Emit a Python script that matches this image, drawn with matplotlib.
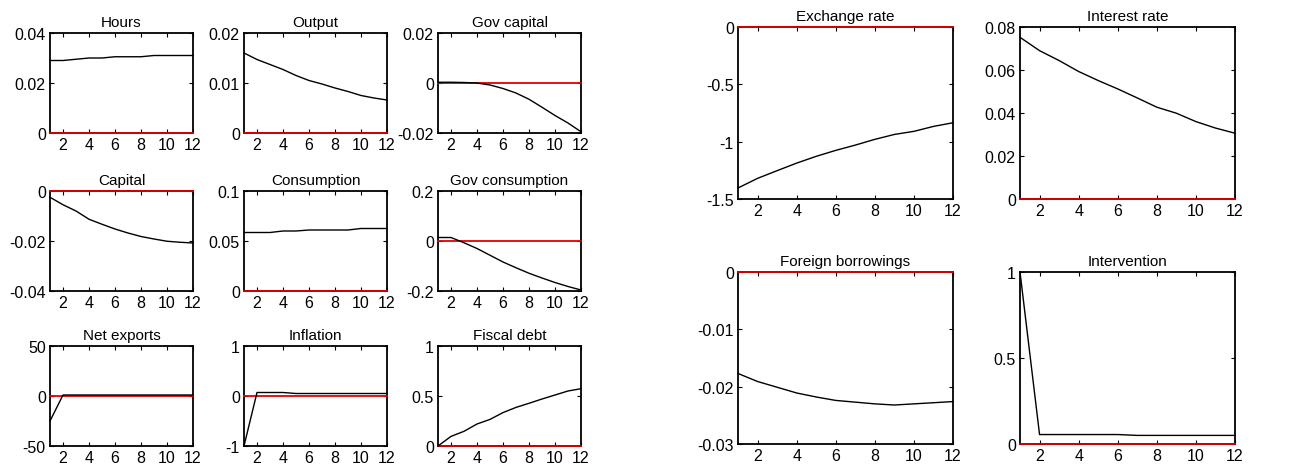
import numpy as np
import matplotlib
matplotlib.use("Agg")
import matplotlib.pyplot as plt
from matplotlib.ticker import FuncFormatter

plt.rcParams['font.family'] = ['Liberation Sans', 'DejaVu Sans']

periods = np.arange(1, 13)

# impulse responses, small panels
hours = [0.029, 0.029, 0.0295, 0.030, 0.030, 0.0305, 0.0305, 0.0305, 0.031, 0.031, 0.031, 0.031]
output = [0.016, 0.0147, 0.0137, 0.0127, 0.0115, 0.0105, 0.0098, 0.009, 0.0083, 0.0075, 0.007, 0.0066]
gov_capital = [0.0003, 0.0003, 0.0002, 0.0, -0.0008, -0.0022, -0.004, -0.0065, -0.0097, -0.013, -0.016, -0.0195]
capital = [-0.0025, -0.0055, -0.008, -0.0113, -0.0133, -0.0152, -0.0168, -0.0182, -0.0192, -0.0201, -0.0205, -0.0208]
consumption = [0.0585, 0.0585, 0.0585, 0.060, 0.060, 0.061, 0.061, 0.061, 0.061, 0.0625, 0.0625, 0.0625]
gov_consumption = [0.014, 0.014, -0.007, -0.03, -0.057, -0.084, -0.107, -0.129, -0.148, -0.166, -0.182, -0.196]
net_exports = [-25, 1, 1, 1, 1, 1, 1, 1, 1, 1, 1, 1]
inflation = [-1, 0.07, 0.07, 0.07, 0.05, 0.05, 0.05, 0.05, 0.05, 0.05, 0.05, 0.05]
fiscal_debt = [0.0, 0.096, 0.147, 0.22, 0.266, 0.334, 0.386, 0.427, 0.47, 0.51, 0.55, 0.573]

# impulse responses, large panels
exchange_rate = [-1.404, -1.32, -1.253, -1.187, -1.128, -1.076, -1.03, -0.98, -0.937, -0.91, -0.867, -0.835]
interest_rate = [0.0752, 0.069, 0.0644, 0.0593, 0.0551, 0.0512, 0.047, 0.0427, 0.0399, 0.036, 0.033, 0.0306]
foreign_borrowings = [-0.0177, -0.0191, -0.0201, -0.0211, -0.0218, -0.0224, -0.0227, -0.0230, -0.0232, -0.0230, -0.0228, -0.0226]
intervention = [1.0, 0.055, 0.055, 0.055, 0.055, 0.055, 0.05, 0.05, 0.05, 0.05, 0.05, 0.05]

W, H = 1302, 477
fig = plt.figure(figsize=(W / 100, H / 100), dpi=100)


def panel(left, top, width, height, title, values, ylim, yticks):
    ax = fig.add_axes([left / W, (H - top - height) / H, width / W, height / H])
    # zero reference line sits on top of the frame when it falls on an edge
    ax.plot(periods, np.zeros(len(periods)), color='#e00000', lw=1.3,
            zorder=6, clip_on=False)
    ax.plot(periods, values, color='black', lw=1.0, zorder=7, clip_on=False)
    ax.set_xlim(1, 12)
    ax.set_ylim(*ylim)
    ax.set_xticks([2, 4, 6, 8, 10, 12])
    ax.set_yticks(yticks)
    ax.yaxis.set_major_formatter(FuncFormatter(lambda v, p: '%g' % round(v, 6)))
    ax.tick_params(direction='in', top=True, right=True, length=3, width=0.8,
                   labelsize=11.5, pad=3)
    for s in ax.spines.values():
        s.set_linewidth(1.3)
        s.set_zorder(5)
    ax.set_title(title, fontsize=11, pad=5)
    return ax


# left block: 3 x 3
lefts = [50, 244, 438]
tops = [34, 192, 347]
small = [
    ("Hours", hours, (0, 0.04), [0, 0.02, 0.04]),
    ("Output", output, (0, 0.02), [0, 0.01, 0.02]),
    ("Gov capital", gov_capital, (-0.02, 0.02), [-0.02, 0, 0.02]),
    ("Capital", capital, (-0.04, 0), [-0.04, -0.02, 0]),
    ("Consumption", consumption, (0, 0.1), [0, 0.05, 0.1]),
    ("Gov consumption", gov_consumption, (-0.2, 0.2), [-0.2, 0, 0.2]),
    ("Net exports", net_exports, (-50, 50), [-50, 0, 50]),
    ("Inflation", inflation, (-1, 1), [-1, 0, 1]),
    ("Fiscal debt", fiscal_debt, (0, 1), [0, 0.5, 1]),
]
for i, (t, v, yl, yt) in enumerate(small):
    panel(lefts[i % 3], tops[i // 3], 143, 100, t, v, yl, yt)

# right block: 2 x 2
rlefts = [738, 1020]
rtops = [28, 273]
large = [
    ("Exchange rate", exchange_rate, (-1.5, 0), [-1.5, -1, -0.5, 0]),
    ("Interest rate", interest_rate, (0, 0.08), [0, 0.02, 0.04, 0.06, 0.08]),
    ("Foreign borrowings", foreign_borrowings, (-0.03, 0), [-0.03, -0.02, -0.01, 0]),
    ("Intervention", intervention, (0, 1), [0, 0.5, 1]),
]
for i, (t, v, yl, yt) in enumerate(large):
    panel(rlefts[i % 2], rtops[i // 2], 215, 172, t, v, yl, yt)

fig.savefig("out.png", dpi=100)
